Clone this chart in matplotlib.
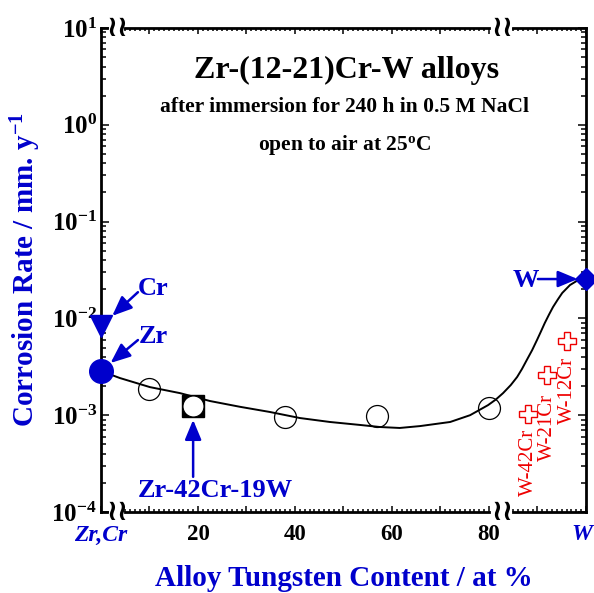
import matplotlib
matplotlib.use('Agg')
import matplotlib.pyplot as plt
from matplotlib.transforms import blended_transform_factory, ScaledTranslation

plt.rcParams['font.family'] = ['Liberation Serif', 'DejaVu Serif']
plt.rcParams['font.weight'] = 'bold'
plt.rcParams['mathtext.default'] = 'regular'

BLUE = '#0000CC'
RED = '#EE0000'

# ---------------- data ----------------
alloy_w = [10, 38, 57, 80]
alloy_rate = [1.87e-3, 9.6e-4, 9.7e-4, 1.19e-3]
ref_w = [19]
ref_rate = [1.245e-3]
zr_w, zr_rate = [0], [2.86e-3]
cr_w, cr_rate = [0], [8.3e-3]
w_w, w_rate = [100], [2.55e-2]
wcr_w = [88, 92, 96]
wcr_rate = [1.03e-3, 2.6e-3, 5.85e-3]
wcr_labels = ['W-42Cr', 'W-21Cr', 'W-12Cr']
wcr_label_off = [-34.6, -37.4, -35.3]

fit_w = [0, 3.9, 10.1, 16.3, 22.5, 28.7, 34.8, 41.0, 47.2, 53.4, 57.5, 61.6,
         65.8, 72.0, 76.1, 79.8, 81.4, 82.9, 84.5, 85.8, 86.8, 87.8, 88.9,
         89.9, 90.7, 91.5, 92.4, 93.2, 94.2, 95.1, 96.7, 98.4, 100]
fit_rate = [2.86e-3, 2.42e-3, 1.95e-3, 1.69e-3, 1.40e-3, 1.22e-3, 1.08e-3,
            9.35e-4, 8.51e-4, 7.93e-4, 7.55e-4, 7.38e-4, 7.72e-4, 8.51e-4,
            1.00e-3, 1.27e-3, 1.45e-3, 1.69e-3, 2.05e-3, 2.48e-3, 3.00e-3,
            3.72e-3, 4.70e-3, 5.98e-3, 7.30e-3, 8.95e-3, 1.10e-2, 1.31e-2,
            1.57e-2, 1.83e-2, 2.21e-2, 2.49e-2, 2.55e-2]

xtick_vals = [0, 10, 20, 30, 40, 50, 60, 70, 80, 90, 100]
xtick_labels = ['Zr,Cr', '', '20', '', '40', '', '60', '', '80', '', 'W']
xminor_vals = [i for i in range(5, 80) if i % 10] + [i for i in range(85, 100) if i % 10]
ytick_vals = [1e-4, 1e-3, 1e-2, 1e-1, 1e0, 1e1]
ytick_labels = [r'$10^{-4}$', r'$10^{-3}$', r'$10^{-2}$', r'$10^{-1}$', r'$10^{0}$', r'$10^{1}$']

title_lines = ['Zr-(12-21)Cr-W alloys',
               'after immersion for 240 h in 0.5 M NaCl',
               r'open to air at 25$^{o}$C']

# ---------------- figure ----------------
fig = plt.figure(figsize=(5.94, 5.93), dpi=100)
ax = fig.add_axes([0.170, 0.1366, 0.8165, 0.8162])
ax.set_yscale('log')
ax.set_xlim(0, 100)
ax.set_ylim(1e-4, 1e1)

# fitted curve
ax.plot(fit_w, fit_rate, color='black', lw=1.4, zorder=2)

# alloys (open circles)
ax.plot(alloy_w, alloy_rate, 'o', ms=15.8, mfc='none', mec='black', mew=0.9, zorder=3)
# reference alloy: black square with white circle
ax.plot(ref_w, ref_rate, 's', ms=16.5, mfc='black', mec='black', zorder=4)
ax.plot(ref_w, ref_rate, 'o', ms=15.2, mfc='white', mec='black', mew=0.9, zorder=5)
# pure metals
ax.plot(zr_w, zr_rate, 'o', ms=17, color=BLUE, zorder=5, clip_on=False)
ax.plot(cr_w, cr_rate, 'v', ms=16, color=BLUE, zorder=5, clip_on=False)
ax.plot(w_w, w_rate, 'D', ms=11.2, color=BLUE, zorder=5, clip_on=False)
# W-Cr alloys
ax.plot(wcr_w, wcr_rate, 'P', ms=12.5, mfc='white', mec=RED, mew=1.0, zorder=4, ls='none')
for xv, yv, lab, off in zip(wcr_w, wcr_rate, wcr_labels, wcr_label_off):
    ax.annotate(lab, xy=(xv, yv), xytext=(0.5, off), textcoords='offset points',
                rotation=90, ha='center', va='center', color=RED,
                fontsize=15, fontweight='normal')

# annotations with arrows
aprops = dict(arrowstyle='-|>,head_length=1.2,head_width=0.5', mutation_scale=10,
              color=BLUE, lw=1.8, shrinkA=0)

def label_arrow(x, y, text, tail, tip_shrink, text_off):
    ax.annotate('', xy=(x, y), xytext=tail, textcoords='offset points',
                arrowprops=dict(aprops, shrinkB=tip_shrink), zorder=6)
    ax.annotate(text, xy=(x, y), xytext=text_off, textcoords='offset points',
                ha='center', va='center', color=BLUE, fontsize=19, fontweight='bold')

label_arrow(cr_w[0], cr_rate[0], 'Cr', (26.6, 24.5), 11, (37.4, 27.4))
label_arrow(zr_w[0], zr_rate[0], 'Zr', (26.6, 22.3), 9, (37.4, 24.5))
label_arrow(ref_w[0], ref_rate[0], 'Zr-42Cr-19W', (0, -51), 10, (15.8, -60.5))
label_arrow(w_w[0], w_rate[0], 'W', (-34.6, 0), 6, (-43, -1.4))

# title texts
ax.text(0.507, 0.913, title_lines[0], transform=ax.transAxes, ha='center', va='center',
        fontsize=23, fontweight='bold')
ax.text(0.503, 0.837, title_lines[1], transform=ax.transAxes, ha='center', va='center',
        fontsize=15.5, fontweight='bold')
ax.text(0.502, 0.758, title_lines[2], transform=ax.transAxes, ha='center', va='center',
        fontsize=15.5, fontweight='bold')

# ticks
ax.set_xticks(xtick_vals)
ax.set_xticklabels(xtick_labels)
ax.set_xticks(xminor_vals, minor=True)
ax.set_yticks(ytick_vals)
ax.set_yticklabels(ytick_labels)
ax.tick_params(axis='both', which='both', direction='in', top=True, right=True, width=1.1)
ax.tick_params(axis='x', which='major', length=4.5, pad=9, labelsize=16.5)
ax.tick_params(axis='x', which='minor', length=2.2)
ax.tick_params(axis='y', which='major', length=6, pad=3, labelsize=18)
ax.tick_params(axis='y', which='minor', length=3.5)
xt = ax.get_xticklabels()
for i in (0, len(xtick_labels) - 1):
    xt[i].set_color(BLUE)
    xt[i].set_style('italic')
    xt[i].set_fontsize(17)
xt[-1].set_transform(xt[-1].get_transform() + ScaledTranslation(-0.045, 0, fig.dpi_scale_trans))

# spines with breaks
for side in ['left', 'right']:
    ax.spines[side].set_linewidth(2)
for side in ['top', 'bottom']:
    ax.spines[side].set_visible(False)
trans = blended_transform_factory(ax.transData, ax.transAxes)
segments = [(0, 1.2), (4.9, 80), (85, 100)]
for yy in (0, 1):
    for a, b in segments:
        ax.plot([a, b], [yy, yy], color='black', lw=2, transform=trans,
                clip_on=False, solid_capstyle='projecting', zorder=7)
    for bx in (2.3, 4.4, 81.6, 83.8):
        ax.text(bx, yy, '\u2240', transform=trans, ha='center', va='center',
                fontsize=21, fontweight='bold', family='DejaVu Sans', zorder=8)

# axis labels
ax.set_xlabel('Alloy Tungsten Content / at %', color=BLUE, fontsize=21,
              fontweight='bold', labelpad=14)
ax.set_ylabel(r'Corrosion Rate / mm. y$^{-1}$', color=BLUE, fontsize=21,
              fontweight='bold', labelpad=6)

fig.savefig('out.png', dpi=100)
